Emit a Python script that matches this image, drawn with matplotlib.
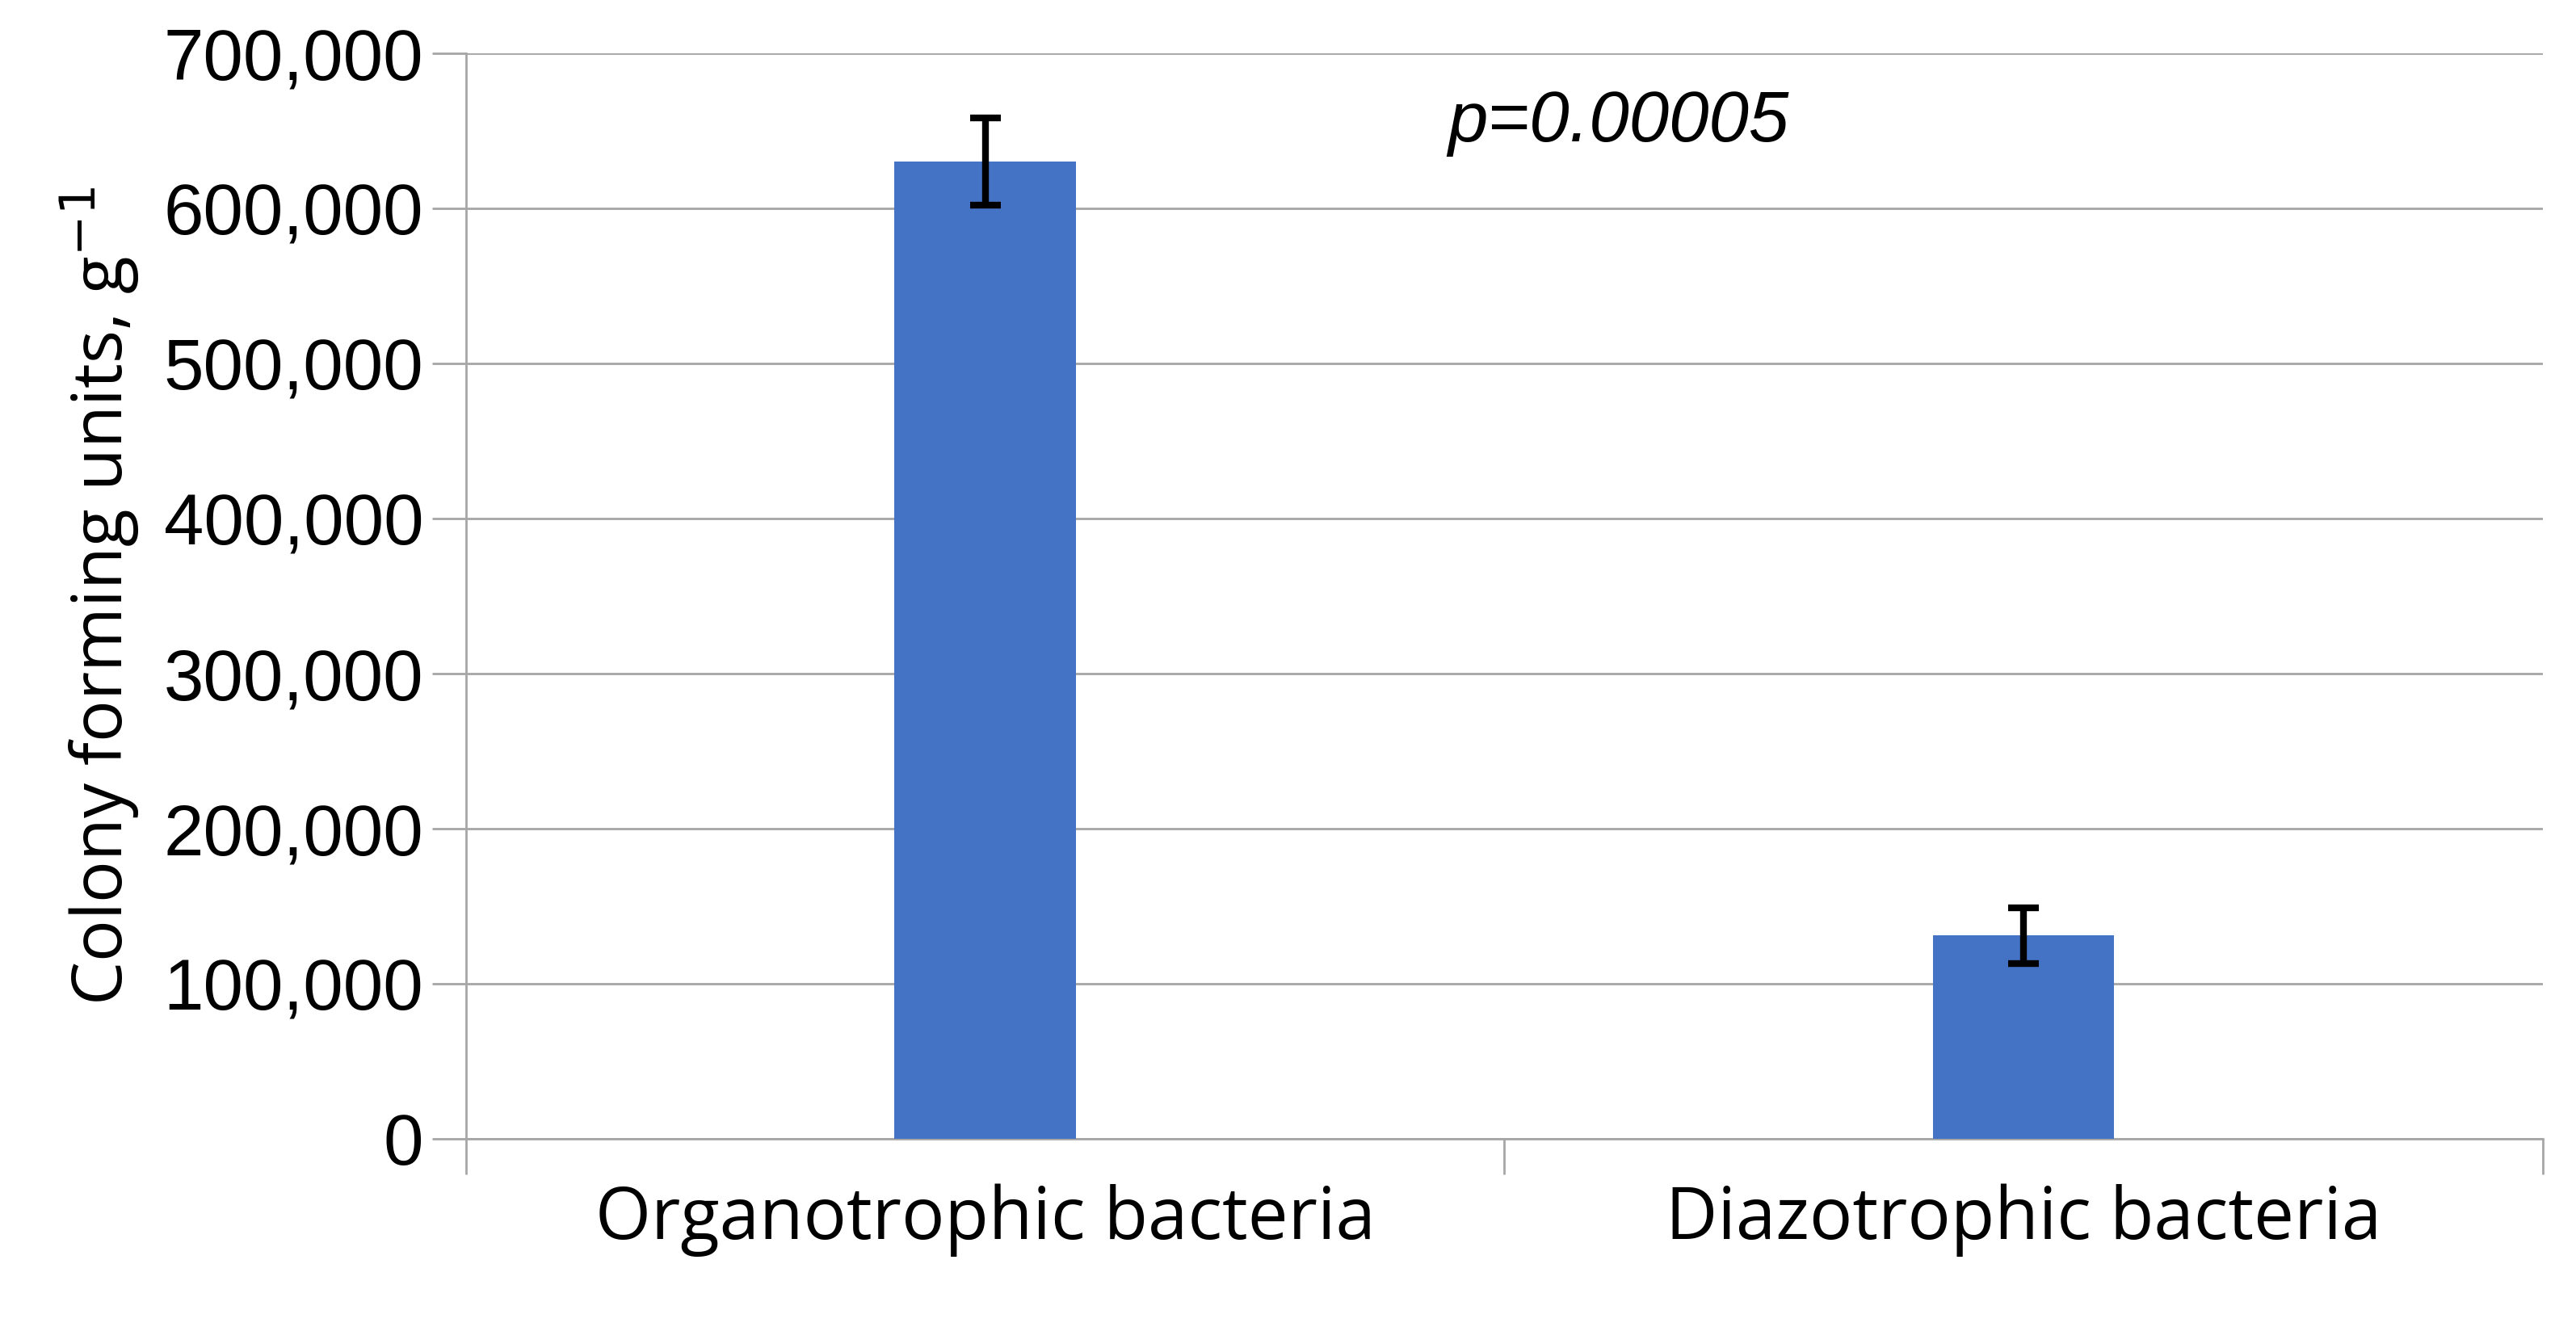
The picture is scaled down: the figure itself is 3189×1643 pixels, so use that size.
import matplotlib.pyplot as plt
from matplotlib.ticker import FuncFormatter

categories = ['Organotrophic bacteria', 'Diazotrophic bacteria']
cfu = [630000, 131000]
err = [28000, 18000]
yticks = [0, 100000, 200000, 300000, 400000, 500000, 600000, 700000]

fig = plt.figure(figsize=(31.89, 16.43), dpi=100)
ax = fig.add_axes([0.181, 0.142, 0.806, 0.818])

x = range(len(categories))
ax.bar(x, cfu, width=0.175, color='#4472C4', zorder=3)
ax.errorbar(x, cfu, yerr=err, fmt='none', ecolor='black', elinewidth=6,
            capsize=14, capthick=6, zorder=4)

ax.set_xlim(-0.5, 1.5)
ax.set_ylim(0, 700000)
ax.set_yticks(yticks)
ax.yaxis.set_major_formatter(FuncFormatter(lambda v, p: f'{int(v):,}'))
ax.grid(axis='y', color='#a6a6a6', linewidth=2, zorder=0)

ax.set_xticks(list(x))
ax.set_xticklabels(categories, fontfamily='Open Sans', fontsize=64)
ax.tick_params(axis='x', which='major', length=0, pad=40)
ax.set_xticks([-0.5, 0.5, 1.5], minor=True)
ax.tick_params(axis='x', which='minor', length=32, width=2, color='#a6a6a6')
ax.tick_params(axis='y', length=30, width=2, color='#a6a6a6', labelsize=64, pad=8)
for lab in ax.get_yticklabels():
    lab.set_fontfamily('Liberation Sans')

for s in ['top', 'right']:
    ax.spines[s].set_visible(False)
ax.spines['left'].set_color('#a6a6a6')
ax.spines['bottom'].set_color('#a6a6a6')
ax.spines['left'].set_linewidth(2)
ax.spines['bottom'].set_linewidth(2)

ax.set_ylabel('Colony forming units, g$^{-1}$', fontsize=62,
              fontfamily='Open Sans', labelpad=20)
ax.text(0.61, 655000, 'p=0.00005', fontsize=64, style='italic',
        fontfamily='Liberation Sans', ha='center', va='center')

fig.savefig('out.png', dpi=100)
